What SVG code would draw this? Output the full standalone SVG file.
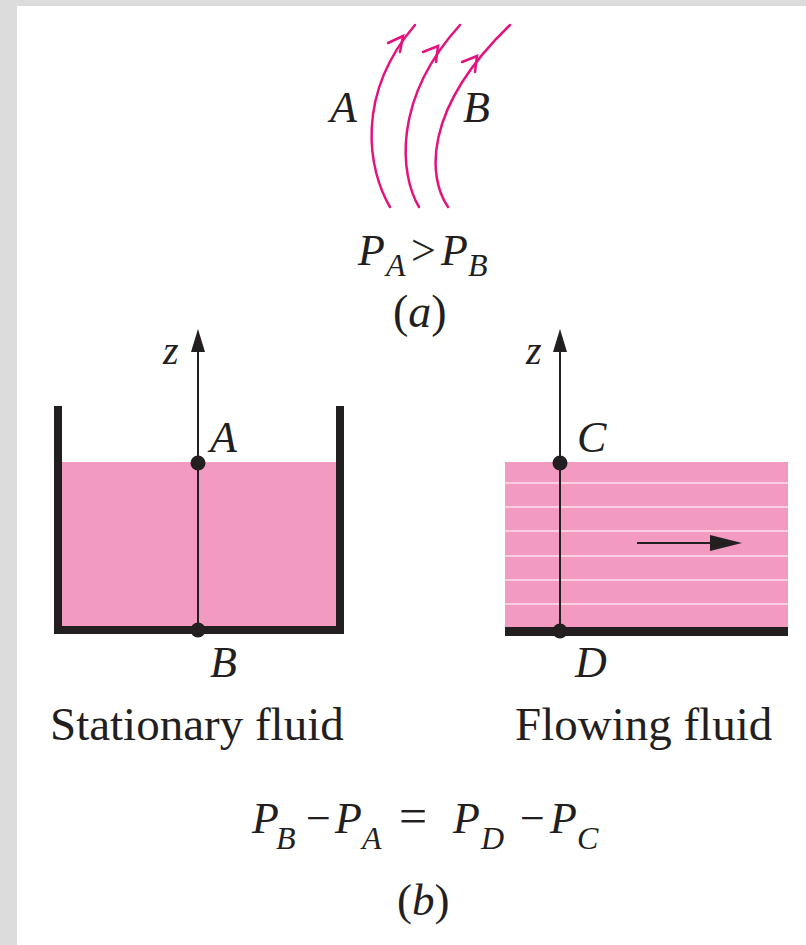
<svg xmlns="http://www.w3.org/2000/svg" width="806" height="945" viewBox="0 0 806 945">
<defs>
<style>
.t{font-family:"Liberation Serif","Times New Roman",serif;fill:#231f20}
.i{font-style:italic}
.sl{fill:none;stroke:#e4127f;stroke-width:2.5;stroke-linecap:round}
.ax{stroke:#231f20;stroke-width:2;fill:none}
.wl{stroke:#fbe2ec;stroke-width:1.4}
</style>
</defs>
<rect x="0" y="0" width="806" height="945" fill="#dcdcdc"/>
<rect x="17" y="6" width="789" height="939" fill="#ffffff"/>

<g id="streamlines">
<path class="sl" d="M390,207 C368,170 355,95 415,25"/>
<path class="sl" d="M388,43 L403,36 L400,52"/>
<path class="sl" d="M419,207 C400,175 392,100 460,25"/>
<path class="sl" d="M423,52 L438,46 L436,62"/>
<path class="sl" d="M448,207 C428,178 422,110 510,25"/>
<path class="sl" d="M462,62 L477,56 L475,72"/>
<text class="t i" x="330" y="122" font-size="44">A</text>
<text class="t i" x="463" y="122" font-size="44">B</text>
</g>

<g id="eq-a">
<text class="t i" x="358" y="265" font-size="44">P</text>
<text class="t i" x="386" y="276" font-size="32">A</text>
<text class="t" x="411" y="265" font-size="44">&gt;</text>
<text class="t i" x="441" y="265" font-size="44">P</text>
<text class="t i" x="468" y="276" font-size="32">B</text>
<text class="t" x="393" y="327" font-size="46">(<tspan class="i">a</tspan>)</text>
</g>

<g id="stationary">
<rect x="62" y="462" width="274" height="164" fill="#f39ac0"/>
<path d="M58,406 V630 H340 V406" fill="none" stroke="#231f20" stroke-width="8"/>
<text class="t i" x="163" y="364" font-size="40">z</text>
<text class="t i" x="210" y="452" font-size="44">A</text>
<text class="t i" x="210" y="677" font-size="44">B</text>
<text class="t" x="50" y="740" font-size="47">Stationary fluid</text>
</g>

<g id="flowing">
<rect x="505" y="462" width="283" height="165" fill="#f39ac0"/>
<line class="wl" x1="505" y1="483" x2="788" y2="483"/>
<line class="wl" x1="505" y1="507" x2="788" y2="507"/>
<line class="wl" x1="505" y1="531" x2="788" y2="531"/>
<line class="wl" x1="505" y1="556" x2="788" y2="556"/>
<line class="wl" x1="505" y1="580" x2="788" y2="580"/>
<line class="wl" x1="505" y1="604" x2="788" y2="604"/>
<rect x="505" y="627" width="283" height="9" fill="#231f20"/>
<text class="t i" x="526" y="364" font-size="40">z</text>
<text class="t i" x="577" y="452" font-size="44">C</text>
<text class="t i" x="575" y="677" font-size="44">D</text>
<text class="t" x="515" y="740" font-size="47">Flowing fluid</text>
</g>

<g id="connectors">
<line class="ax" x1="198" y1="630" x2="198" y2="350"/>
<path d="M198,329 L191,352 L205,352 Z" fill="#231f20"/>
<circle cx="198" cy="463" r="7.5" fill="#231f20"/>
<circle cx="198" cy="630" r="7.5" fill="#231f20"/>
<line class="ax" x1="560" y1="631" x2="560" y2="350"/>
<path d="M560,329 L553,352 L567,352 Z" fill="#231f20"/>
<circle cx="560" cy="463" r="7.5" fill="#231f20"/>
<circle cx="560" cy="631" r="7.5" fill="#231f20"/>
<line x1="637" y1="543" x2="712" y2="543" stroke="#231f20" stroke-width="2"/>
<path d="M742,543 L710,535 L710,551 Z" fill="#231f20"/>
</g>

<g id="eq-b">
<text class="t i" x="252" y="833" font-size="44">P</text>
<text class="t i" x="276" y="849" font-size="32">B</text>
<text class="t" x="306" y="833" font-size="44">−</text>
<text class="t i" x="335" y="833" font-size="44">P</text>
<text class="t i" x="362" y="849" font-size="32">A</text>
<text class="t" x="399" y="833" font-size="50">=</text>
<text class="t i" x="453" y="833" font-size="44">P</text>
<text class="t i" x="481" y="849" font-size="32">D</text>
<text class="t" x="520" y="833" font-size="44">−</text>
<text class="t i" x="550" y="833" font-size="44">P</text>
<text class="t i" x="577" y="849" font-size="32">C</text>
<text class="t" x="397" y="915" font-size="45">(<tspan class="i">b</tspan>)</text>
</g>
</svg>
